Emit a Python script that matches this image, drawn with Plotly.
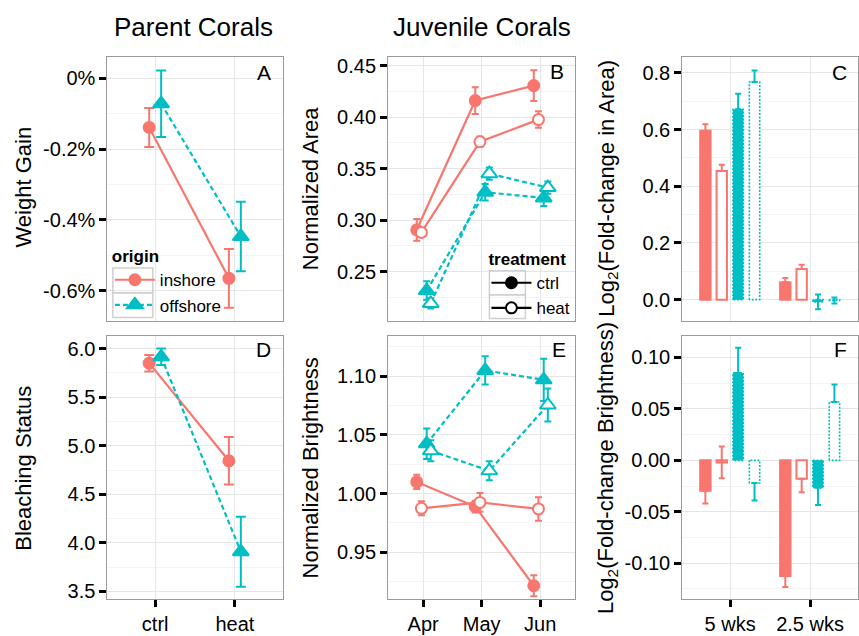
import plotly.graph_objects as go

# ---------------- data ----------------
parent_trt = ["ctrl", "heat"]
months = ["Apr", "May", "Jun"]
weeks = ["5 wks", "2.5 wks"]

# Panel A: weight gain (%), mean and SE
weight_in = [-0.139, -0.565]
weight_in_se = [0.055, 0.083]
weight_off = [-0.072, -0.447]
weight_off_se = [0.094, 0.098]

# Panel D: bleaching status
bleach_in = [5.85, 4.845]
bleach_in_se = [0.085, 0.245]
bleach_off = [5.915, 3.91]
bleach_off_se = [0.085, 0.36]

# Panel B: normalized area
area_in_ctrl = [0.2905, 0.416, 0.4305]
area_in_ctrl_se = [0.0105, 0.013, 0.015]
area_in_heat = [0.288, 0.376, 0.3975]
area_in_heat_se = [0.004, 0.005, 0.008]
area_off_ctrl = [0.2315, 0.327, 0.3215]
area_off_ctrl_se = [0.009, 0.008, 0.008]
area_off_heat = [0.219, 0.345, 0.3315]
area_off_heat_se = [0.005, 0.006, 0.006]

# Panel E: normalized brightness
bright_in_ctrl = [1.010, 0.989, 0.9215]
bright_in_ctrl_se = [0.006, 0.005, 0.009]
bright_in_heat = [0.9875, 0.9925, 0.987]
bright_in_heat_se = [0.006, 0.008, 0.010]
bright_off_ctrl = [1.0425, 1.105, 1.097]
bright_off_ctrl_se = [0.013, 0.012, 0.018]
bright_off_heat = [1.0365, 1.0195, 1.0755]
bright_off_heat_se = [0.009, 0.008, 0.014]

# Panel C: log2 fold-change in area
lfc_area_in_ctrl = [0.596, 0.061]
lfc_area_in_ctrl_se = [0.023, 0.015]
lfc_area_in_heat = [0.454, 0.108]
lfc_area_in_heat_se = [0.022, 0.015]
lfc_area_off_ctrl = [0.672, -0.008]
lfc_area_off_ctrl_se = [0.055, 0.026]
lfc_area_off_heat = [0.768, -0.003]
lfc_area_off_heat_se = [0.041, 0.011]

# Panel F: log2 fold-change in brightness
lfc_br_in_ctrl = [-0.0295, -0.1125]
lfc_br_in_ctrl_se = [0.0125, 0.0105]
lfc_br_in_heat = [-0.002, -0.018]
lfc_br_in_heat_se = [0.0155, 0.013]
lfc_br_off_ctrl = [0.085, -0.0267]
lfc_br_off_ctrl_se = [0.0245, 0.0167]
lfc_br_off_heat = [-0.022, 0.0567]
lfc_br_off_heat_se = [0.017, 0.0169]

# tick labels
a_ticks = [0, -0.2, -0.4, -0.6]
a_ticktext = ["0%", "-0.2%", "-0.4%", "-0.6%"]
b_ticks = [0.25, 0.30, 0.35, 0.40, 0.45]
b_ticktext = ["0.25", "0.30", "0.35", "0.40", "0.45"]
c_ticks = [0.0, 0.2, 0.4, 0.6, 0.8]
c_ticktext = ["0.0", "0.2", "0.4", "0.6", "0.8"]
d_ticks = [3.5, 4.0, 4.5, 5.0, 5.5, 6.0]
d_ticktext = ["3.5", "4.0", "4.5", "5.0", "5.5", "6.0"]
e_ticks = [0.95, 1.00, 1.05, 1.10]
e_ticktext = ["0.95", "1.00", "1.05", "1.10"]
f_ticks = [-0.10, -0.05, 0.0, 0.05, 0.10]
f_ticktext = ["-0.10", "-0.05", "0.00", "0.05", "0.10"]

# ---------------- styling ----------------
W, H = 859, 636
RED = "#F8766D"
CYAN = "#00BFC4"
FONT = "Liberation Sans, Arial, sans-serif"
DASH = "5px,3px"
GRID = "#e6e6e6"
MINOR = "#f4f4f4"
BORDER = "#9a9a9a"
TICKSIZE = 20


def px(x):
    return x / W


def py(y):
    return 1 - y / H


fig = go.Figure()


def add_series(ax, n, off, y, se, color, dash, symbol, fill, errw,
               name=None, legend=None, showlegend=False, size=10):
    xs = [i + 1 + off for i in range(n)]
    fig.add_trace(go.Scatter(
        x=xs, y=y, mode="lines+markers", xaxis="x" + ax, yaxis="y" + ax,
        line=dict(color=color, width=2.2, dash=dash),
        marker=dict(symbol=symbol, size=size, color=fill,
                    line=dict(color=color, width=2)),
        error_y=dict(type="data", array=se, visible=True, color=color,
                     thickness=2, width=errw),
        name=name, showlegend=showlegend,
        legend=legend if legend else "legend", hoverinfo="skip"))


# Panel A (axis suffix "")
add_series("", 2, -0.075, weight_in, weight_in_se, RED, "solid", "circle", RED, 5,
           name="inshore", showlegend=True, size=11)
add_series("", 2, 0.075, weight_off, weight_off_se, CYAN, DASH, "triangle-up", CYAN, 5,
           name="offshore", showlegend=True, size=14)
# Panel D
add_series("4", 2, -0.075, bleach_in, bleach_in_se, RED, "solid", "circle", RED, 5, size=11)
add_series("4", 2, 0.075, bleach_off, bleach_off_se, CYAN, DASH, "triangle-up", CYAN, 5, size=14)

# Panels B and E
dodge4 = [-0.11, -0.03, 0.06, 0.13]
for ax, series in [("2", [(area_in_ctrl, area_in_ctrl_se), (area_in_heat, area_in_heat_se),
                          (area_off_ctrl, area_off_ctrl_se), (area_off_heat, area_off_heat_se)]),
                   ("5", [(bright_in_ctrl, bright_in_ctrl_se), (bright_in_heat, bright_in_heat_se),
                          (bright_off_ctrl, bright_off_ctrl_se), (bright_off_heat, bright_off_heat_se)])]:
    styles = [(RED, "solid", "circle", RED, 11), (RED, "solid", "circle", "white", 11),
              (CYAN, DASH, "triangle-up", CYAN, 14), (CYAN, DASH, "triangle-up", "white", 14)]
    for (vals, se), off, (col, dash, sym, fill, sz) in zip(series, dodge4, styles):
        add_series(ax, 3, off, vals, se, col, dash, sym, fill, 3.5, size=sz)

# treatment legend (black keys)
fig.add_trace(go.Scatter(x=[None], y=[None], xaxis="x2", yaxis="y2", mode="lines+markers",
                         line=dict(color="black", width=2.2),
                         marker=dict(symbol="circle", size=11, color="black",
                                     line=dict(color="black", width=2)),
                         name="ctrl", legend="legend2", showlegend=True))
fig.add_trace(go.Scatter(x=[None], y=[None], xaxis="x2", yaxis="y2", mode="lines+markers",
                         line=dict(color="black", width=2.2),
                         marker=dict(symbol="circle", size=11, color="white",
                                     line=dict(color="black", width=2)),
                         name="heat", legend="legend2", showlegend=True))

# Panels C and F (bars)
BW = 0.13
bar_off = [-0.31, -0.105, 0.1, 0.305]


def add_bars(ax, vals, se, off, color, fill, dotted):
    xs = [i + 1 + off for i in range(len(vals))]
    plus, minus = [], []
    for v, e in zip(vals, se):
        if e > abs(v):
            plus.append(e); minus.append(e)
        elif v >= 0:
            plus.append(e); minus.append(0)
        else:
            plus.append(0); minus.append(e)
    fig.add_trace(go.Bar(
        x=xs, y=vals, width=[BW] * len(vals), xaxis="x" + ax, yaxis="y" + ax,
        marker=dict(color=fill, line=dict(color=color, width=0 if dotted else 2)),
        error_y=dict(type="data", symmetric=False, array=plus, arrayminus=minus,
                     color=color, thickness=2, width=3),
        showlegend=False, hoverinfo="skip"))
    if dotted:
        ox, oy = [], []
        for c, v in zip(xs, vals):
            x0, x1 = c - BW / 2, c + BW / 2
            ox += [x0, x0, x1, x1, x0, None]
            oy += [0, v, v, 0, 0, None]
        fig.add_trace(go.Scatter(x=ox, y=oy, mode="lines", xaxis="x" + ax, yaxis="y" + ax,
                                 line=dict(color=color, width=1.6, dash="2px,1.5px"),
                                 showlegend=False, hoverinfo="skip"))


for ax, series in [("3", [(lfc_area_in_ctrl, lfc_area_in_ctrl_se), (lfc_area_in_heat, lfc_area_in_heat_se),
                          (lfc_area_off_ctrl, lfc_area_off_ctrl_se), (lfc_area_off_heat, lfc_area_off_heat_se)]),
                   ("6", [(lfc_br_in_ctrl, lfc_br_in_ctrl_se), (lfc_br_in_heat, lfc_br_in_heat_se),
                          (lfc_br_off_ctrl, lfc_br_off_ctrl_se), (lfc_br_off_heat, lfc_br_off_heat_se)])]:
    bstyles = [(RED, RED, False), (RED, "white", False), (CYAN, CYAN, True), (CYAN, "white", True)]
    for (vals, se), off, (col, fill, dot) in zip(series, bar_off, bstyles):
        add_bars(ax, vals, se, off, col, fill, dot)

# ---------------- axes ----------------
panels = {
    "": dict(x=(107.5, 283), y=(55, 321.7), ncat=2, ticks=a_ticks, tt=a_ticktext,
             yr=(-0.686, 0.061), minor=[-0.5, -0.3, -0.1], cats=parent_trt, bottom=False),
    "2": dict(x=(388.5, 576), y=(55, 321.7), ncat=3, ticks=b_ticks, tt=b_ticktext,
              yr=(0.2018, 0.4587), minor=[0.225, 0.275, 0.325, 0.375, 0.425], cats=months, bottom=False),
    "3": dict(x=(683, 859), y=(55, 321.7), ncat=2, ticks=c_ticks, tt=c_ticktext,
              yr=(-0.076, 0.858), minor=[0.1, 0.3, 0.5, 0.7], cats=weeks, bottom=False),
    "4": dict(x=(107.5, 283), y=(337, 602), ncat=2, ticks=d_ticks, tt=d_ticktext,
              yr=(3.42, 6.126), minor=[3.75, 4.25, 4.75, 5.25, 5.75], cats=parent_trt, bottom=True),
    "5": dict(x=(388.5, 576), y=(337, 602), ncat=3, ticks=e_ticks, tt=e_ticktext,
              yr=(0.910, 1.134), minor=[0.925, 0.975, 1.025, 1.075, 1.125], cats=months, bottom=True),
    "6": dict(x=(683, 859), y=(337, 602), ncat=2, ticks=f_ticks, tt=f_ticktext,
              yr=(-0.135, 0.1205), minor=[-0.125, -0.075, -0.025, 0.025, 0.075], cats=weeks, bottom=True),
}

layout = {}
for ax, p in panels.items():
    n = p["ncat"]
    layout["xaxis" + ax] = dict(
        domain=[px(p["x"][0]), px(p["x"][1])], anchor="y" + ax,
        range=[0.4, n + 0.6], tickmode="array", tickvals=list(range(1, n + 1)),
        ticktext=p["cats"], showticklabels=p["bottom"],
        ticks="outside" if p["bottom"] else "", ticklen=7, tickwidth=2.5, tickcolor="black",
        showgrid=True, gridcolor=GRID, gridwidth=1.2, zeroline=False,
        showline=True, mirror=True, linecolor=BORDER, linewidth=1,
        tickfont=dict(family=FONT, size=TICKSIZE, color="black"))
    layout["yaxis" + ax] = dict(
        domain=[py(p["y"][1]), py(p["y"][0])], anchor="x" + ax,
        range=list(p["yr"]), tickmode="array", tickvals=p["ticks"], ticktext=p["tt"],
        ticks="outside", ticklen=7, tickwidth=2.5, tickcolor="black",
        showgrid=True, gridcolor=GRID, gridwidth=1.2, zeroline=False,
        showline=True, mirror=True, linecolor=BORDER, linewidth=1,
        minor=dict(tickmode="array", tickvals=p["minor"], showgrid=True,
                   gridcolor=MINOR, gridwidth=1.2, ticks=""),
        tickfont=dict(family=FONT, size=TICKSIZE, color="black"))

fig.update_layout(**layout)

annots = []
# column titles
annots.append(dict(text="Parent Corals", x=px(194), y=py(25), size=26))
annots.append(dict(text="Juvenile Corals", x=px(483), y=py(25), size=26))
# panel letters
for t, x, y in [("A", 264, 71), ("B", 558, 70), ("C", 840, 71),
                ("D", 264, 350), ("E", 560, 350), ("F", 841, 350)]:
    annots.append(dict(text=t, x=px(x), y=py(y), size=21))
ann_list = [dict(text=a["text"], x=a["x"], y=a["y"], xref="paper", yref="paper",
                 xanchor="center", yanchor="middle", showarrow=False,
                 font=dict(family=FONT, size=a["size"], color="black")) for a in annots]
# y-axis titles
for t, x, y in [("Weight Gain", 24, 186), ("Normalized Area", 311, 188),
                ("Log<sub>2</sub>(Fold-change in Area)", 608, 188),
                ("Bleaching Status", 24, 469.5), ("Normalized Brightness", 311, 469.5),
                ("Log<sub>2</sub>(Fold-change Brightness)", 608, 469.5)]:
    ann_list.append(dict(text=t, x=px(x), y=py(y), xref="paper", yref="paper",
                         xanchor="center", yanchor="middle", showarrow=False, textangle=-90,
                         font=dict(family=FONT, size=22, color="black")))

# legend key boxes (decoration)
KEYC = "#cfcfcf"
shapes = []
for (x0, x1, y0, y1) in [(113, 153, 268, 293), (113, 153, 293, 318),
                         (490, 526, 271, 295), (490, 526, 295, 319)]:
    shapes.append(dict(type="rect", xref="paper", yref="paper",
                       x0=px(x0), x1=px(x1), y0=py(y1), y1=py(y0),
                       line=dict(color=KEYC, width=1.5), fillcolor="rgba(0,0,0,0)",
                       layer="above"))

fig.update_layout(
    width=W, height=H, margin=dict(l=0, r=0, t=0, b=0),
    plot_bgcolor="white", paper_bgcolor="white",
    barmode="overlay", annotations=ann_list, shapes=shapes,
    font=dict(family=FONT, color="black"),
    legend=dict(x=px(110), y=py(240), xanchor="left", yanchor="top",
                title=dict(text="<b>origin</b>", side="top", font=dict(family=FONT, size=17)),
                font=dict(family=FONT, size=17), bgcolor="rgba(255,255,255,0)",
                tracegroupgap=0, itemwidth=40),
    legend2=dict(x=px(487), y=py(243), xanchor="left", yanchor="top",
                 title=dict(text="<b>treatment</b>", side="top", font=dict(family=FONT, size=17)),
                 font=dict(family=FONT, size=17), bgcolor="rgba(255,255,255,0)",
                 tracegroupgap=0, itemwidth=40),
)

fig.write_html("out.html")
